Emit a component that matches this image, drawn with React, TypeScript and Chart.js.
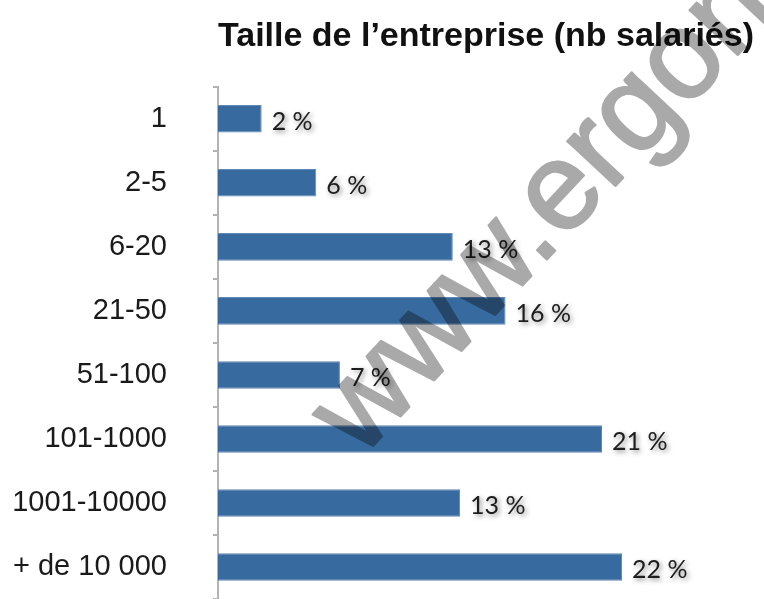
import React, { useEffect, useRef } from "react";
import { Chart, registerables } from "chart.js";

Chart.register(...registerables);

const categories = ["1", "2-5", "6-20", "21-50", "51-100", "101-1000", "1001-10000", "+ de 10 000"];
const shares = [2.4, 5.4, 12.9, 15.8, 6.7, 21.1, 13.3, 22.2];
const valueLabels = ["2 %", "6 %", "13 %", "16 %", "7 %", "21 %", "13 %", "22 %"];
const titleText = "Taille de l\u2019entreprise (nb salariés)";
const watermarkText = "www.ergon";

const barLabelsPlugin = {
  id: "barLabels",
  afterDatasetsDraw(chart: any) {
    const ctx = chart.ctx;
    const meta = chart.getDatasetMeta(0);
    ctx.save();
    ctx.font = "25px Lato";
    ctx.textAlign = "left";
    ctx.textBaseline = "middle";
    ctx.fillStyle = "#1e1e1e";
    ctx.shadowColor = "rgba(0,0,0,0.45)";
    ctx.shadowBlur = 5;
    ctx.shadowOffsetX = 2;
    ctx.shadowOffsetY = 2;
    meta.data.forEach((bar: any, i: number) => {
      ctx.fillText(valueLabels[i], bar.x + 10, bar.y + 3);
    });
    ctx.restore();
  },
};

const watermarkPlugin = {
  id: "watermark",
  afterDraw(chart: any) {
    const ctx = chart.ctx;
    const off = document.createElement("canvas");
    off.width = chart.width;
    off.height = chart.height;
    const o = off.getContext("2d") as CanvasRenderingContext2D;
    o.font = "124px 'Liberation Sans'";
    o.fillStyle = "#a9a9a9";
    o.strokeStyle = "#a9a9a9";
    o.lineWidth = 2.5;
    o.lineJoin = "round";
    o.textBaseline = "alphabetic";
    o.textAlign = "left";
    const pre = o.measureText("www.").width;
    const dot = o.measureText(".").width;
    o.translate(551, 255);
    o.rotate((-47 * Math.PI) / 180);
    const x0 = -(pre - dot / 2);
    o.fillText(watermarkText, x0, 0);
    o.strokeText(watermarkText, x0, 0);
    ctx.save();
    ctx.globalCompositeOperation = "multiply";
    ctx.drawImage(off, 0, 0);
    ctx.restore();
  },
};

export default function App() {
  const ref = useRef<HTMLCanvasElement | null>(null);
  useEffect(() => {
    if (!ref.current) return;
    const chart = new Chart(ref.current, {
      type: "bar",
      data: {
        labels: categories,
        datasets: [
          {
            data: shares,
            backgroundColor: "#376a9e",
            borderColor: "#5f88b6",
            borderWidth: 1,
            barPercentage: 0.43,
            categoryPercentage: 1,
          },
        ],
      },
      options: {
        indexAxis: "y",
        animation: false,
        responsive: false,
        layout: { padding: { left: 0, right: 0, top: 0, bottom: 0 } },
        plugins: {
          legend: { display: false },
          tooltip: { enabled: false },
          title: {
            display: true,
            text: titleText,
            align: "start",
            fullSize: false,
            color: "#111",
            font: { family: "'Liberation Sans', Arial, sans-serif", size: 34, weight: "bold" },
            padding: { top: 16, bottom: 30 },
          },
        },
        scales: {
          x: {
            min: 0,
            max: 30,
            display: true,
            ticks: { display: false },
            grid: { display: false, drawTicks: false },
            border: { display: true, color: "#e4e4e4", width: 1 },
          },
          y: {
            afterFit: (scale: any) => {
              scale.width = 218;
              scale.paddingTop = 0;
              scale.paddingBottom = 0;
            },
            ticks: {
              color: "#1a1a1a",
              padding: 46,
              font: { family: "'Liberation Sans', Arial, sans-serif", size: 29 },
            },
            grid: {
              display: true,
              drawOnChartArea: false,
              drawTicks: true,
              tickLength: 5,
              color: "#b4b4b4",
              lineWidth: 2,
            },
            border: { display: true, color: "#b4b4b4", width: 2 },
          },
        },
      },
      plugins: [barLabelsPlugin, watermarkPlugin],
    });
    return () => chart.destroy();
  }, []);
  return (
    <div style={{ position: "fixed", left: 0, top: 0, width: 764, height: 599, background: "#fff" }}>
      <canvas ref={ref} width={764} height={599} />
    </div>
  );
}
